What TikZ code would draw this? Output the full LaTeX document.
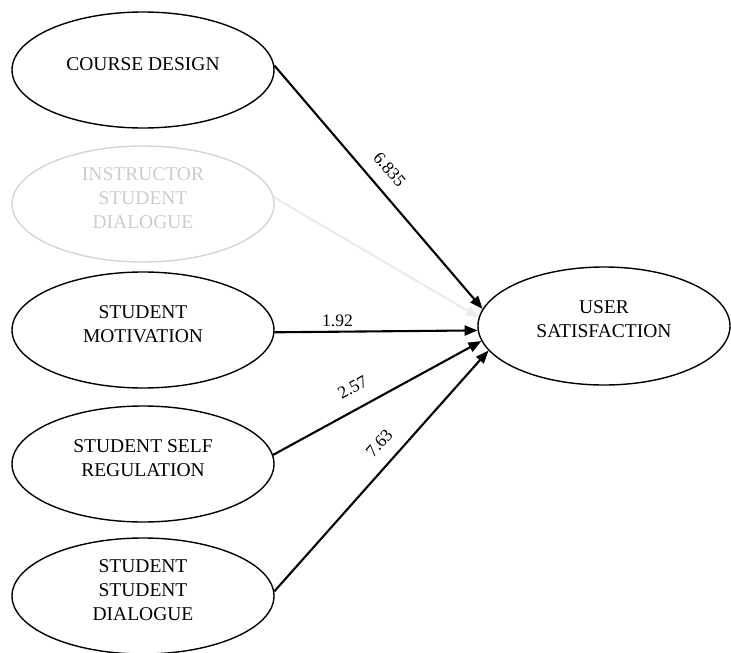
\documentclass[tikz,border=0pt]{standalone}
\usepackage{fontspec}
\setmainfont{Liberation Serif}
\usetikzlibrary{shapes.geometric,arrows.meta}

\tikzset{
  construct/.style={ellipse, draw=black, line width=1.4pt, inner sep=0pt,
    minimum width=262pt, minimum height=116pt, align=center,
    text depth=11pt, font=\fontsize{19.5}{24}\selectfont},
  faded/.style={draw=black!17, text=black!20},
  path/.style={line width=2.1pt, -{Triangle[length=13pt,width=10pt]}},
  fadedpath/.style={path, draw=black!8},
  coef/.style={font=\fontsize{17.5}{20}\selectfont, inner sep=2pt}
}

\begin{document}
\begin{tikzpicture}[x=1pt,y=-1pt]
  \useasboundingbox (0,0) rectangle (731,653);

  % exogenous constructs
  \node[construct] (cd)  at (143,70)  {COURSE DESIGN};
  \node[construct, faded] (isd) at (143,204) {INSTRUCTOR\\STUDENT\\DIALOGUE};
  \node[construct] (sm)  at (143,330) {STUDENT\\MOTIVATION};
  \node[construct] (ssr) at (143,464) {STUDENT SELF\\REGULATION};
  \node[construct] (ssd) at (143,596) {STUDENT\\STUDENT\\DIALOGUE};

  % outcome construct
  \node[construct, minimum width=252pt, minimum height=118pt, text depth=13pt]
    (us) at (604,326) {USER\\SATISFACTION};

  % structural paths with coefficients
  \draw[fadedpath] (isd.3) -- (us.176.8);
  \draw[path] (cd.2) -- node[coef, sloped, above=11pt, pos=0.48] {6.835} (us.172.5);
  \draw[path] (sm.-1) -- node[coef, above=2pt, pos=0.31] {1.92} (us.182.7);
  \draw[path] (ssr.4) -- node[coef, sloped, above=12pt, pos=0.43] {2.57} (us.187.7);
  \draw[path] (ssd.2) -- node[coef, sloped, above=11pt, pos=0.56] {7.63} (us.192.3);
\end{tikzpicture}
\end{document}
